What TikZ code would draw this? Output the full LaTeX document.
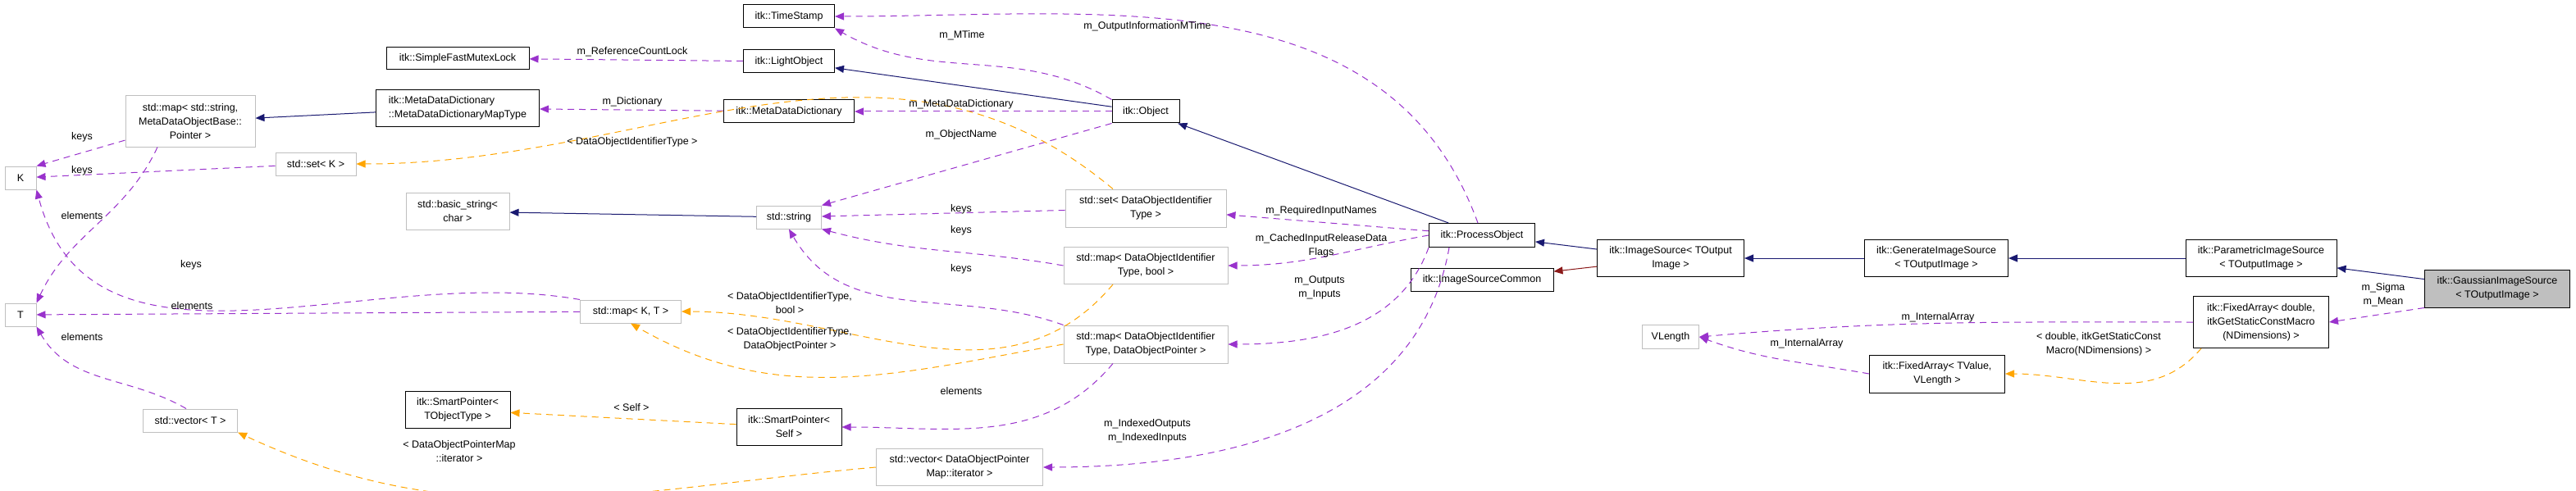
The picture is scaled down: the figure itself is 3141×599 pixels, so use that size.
\documentclass[tikz,border=0pt]{standalone}
\usepackage{fontspec}
\setmainfont{Liberation Sans}
\usetikzlibrary{arrows.meta}

\definecolor{inhcol}{RGB}{25,25,112}
\definecolor{usecol}{RGB}{153,50,204}
\definecolor{tplcol}{RGB}{255,165,0}
\definecolor{protcol}{RGB}{139,26,26}
\definecolor{extcol}{RGB}{191,191,191}

\tikzset{
  box/.style={fill=white, inner sep=2pt, align=center, font=\fontsize{12.5}{17}\selectfont},
  cls/.style={box, draw=black, line width=1pt},
  ext/.style={box, draw=extcol, line width=1pt},
  cur/.style={box, draw=black, fill=extcol, line width=1pt},
  lbl/.style={align=center, inner sep=0pt, font=\fontsize{12.5}{17}\selectfont},
  tip/.style={-{Triangle[length=11pt,width=9pt]}},
  inh/.style={tip, draw=inhcol, line width=1pt},
  prot/.style={tip, draw=protcol, line width=1pt},
  use/.style={tip, draw=usecol, line width=1pt, dash pattern=on 8pt off 6pt},
  tpl/.style={tip, draw=tplcol, line width=1pt, dash pattern=on 8pt off 6pt}
}

\begin{document}
\begin{tikzpicture}[x=1pt, y=-1pt]
      \useasboundingbox (0,0) rectangle (3141,599);

      % classes
      \node[cls, minimum width=111, minimum height=28] (TS) at (962,20) {itk::TimeStamp};
      \node[cls, minimum width=111, minimum height=28] (LO) at (962,75) {itk::LightObject};
      \node[cls, minimum width=174, minimum height=27] (SFML) at (558,71) {itk::SimpleFastMutexLock};
      \node[cls, minimum width=199, minimum height=45, align=left] (MDMT) at (558,132) {itk::MetaDataDictionary\\::MetaDataDictionaryMapType};
      \node[cls, minimum width=159, minimum height=28] (MDD) at (962,136) {itk::MetaDataDictionary};
      \node[cls, minimum width=82, minimum height=28] (Obj) at (1397,136) {itk::Object};
      \node[ext, minimum width=158, minimum height=62] (MapSS) at (232,148) {std::map< std::string,\\MetaDataObjectBase::\\Pointer >};
      \node[ext, minimum width=38, minimum height=28] (K) at (25,217) {K};
      \node[ext, minimum width=98, minimum height=28] (SetK) at (385,200) {std::set< K >};
      \node[ext, minimum width=126, minimum height=45] (BStr) at (558,258) {std::basic\_string<\\char >};
      \node[ext, minimum width=79, minimum height=28] (Str) at (962,265) {std::string};
      \node[ext, minimum width=196, minimum height=46] (SetDO) at (1397,254) {std::set< DataObjectIdentifier\\Type >};
      \node[ext, minimum width=200, minimum height=45] (MapDB) at (1397,324) {std::map< DataObjectIdentifier\\Type, bool >};
      \node[ext, minimum width=200, minimum height=46] (MapDP) at (1397,420) {std::map< DataObjectIdentifier\\Type, DataObjectPointer >};
      \node[cls, minimum width=129, minimum height=29] (PO) at (1807,287) {itk::ProcessObject};
      \node[cls, minimum width=179, minimum height=45] (IS) at (2037,315) {itk::ImageSource< TOutput\\Image >};
      \node[cls, minimum width=174, minimum height=28] (ISC) at (1807,341) {itk::ImageSourceCommon};
      \node[cls, minimum width=175, minimum height=45] (GIS) at (2361,315) {itk::GenerateImageSource\\< TOutputImage >};
      \node[cls, minimum width=184, minimum height=45] (PIS) at (2757,315) {itk::ParametricImageSource\\< TOutputImage >};
      \node[cur, minimum width=177, minimum height=46] (GaIS) at (3045,352) {itk::GaussianImageSource\\< TOutputImage >};
      \node[cls, minimum width=165, minimum height=63] (FAd) at (2757,393) {itk::FixedArray< double,\\itkGetStaticConstMacro\\(NDimensions) >};
      \node[ext, minimum width=69, minimum height=29] (VL) at (2037,411) {VLength};
      \node[cls, minimum width=165, minimum height=46] (FAT) at (2362,456) {itk::FixedArray< TValue,\\VLength >};
      \node[ext, minimum width=38, minimum height=28] (T) at (25,384) {T};
      \node[ext, minimum width=123, minimum height=28] (MapKT) at (769,380) {std::map< K, T >};
      \node[ext, minimum width=115, minimum height=28] (VecT) at (232,513) {std::vector< T >};
      \node[cls, minimum width=128, minimum height=45] (SPT) at (558,500) {itk::SmartPointer<\\TObjectType >};
      \node[cls, minimum width=128, minimum height=45] (SPS) at (962,521) {itk::SmartPointer<\\Self >};
      \node[ext, minimum width=203, minimum height=45] (VecIt) at (1170,570) {std::vector< DataObjectPointer\\Map::iterator >};

      % inheritance
      \draw [inh] (MDMT)  to (MapSS);
      \draw [inh] (Str)   to (BStr);
      \draw [inh] (Obj)   to (LO);
      \draw [inh] (PO)    to (Obj);
      \draw [inh] (IS)    to (PO);
      \draw [prot] (IS)   to (ISC);
      \draw [inh] (GIS)   to (IS);
      \draw [inh] (PIS)   to (GIS);
      \draw [inh] (GaIS)  to (PIS);

      % members
      \draw [use] (LO)    to (SFML);
      \draw [use] (Obj.north west) to[out=150, in=-30] (TS.south east);
      \draw [use] (Obj)   to (MDD);
      \draw [use] (Obj.south west) to (Str.north east);
      \draw [use] (MDD)   to (MDMT);
      \draw [use] (MapSS) to (K.north east);
      \draw [use] (SetK)  to (K);
      \coordinate (mss) at ([xshift=-40]MapSS.south);
      \draw [use] (mss) to[out=-115, in=65] (T.north east);
      \draw [use] (MapKT.north west) to[out=170, in=-75] (K.south east);
      \draw [use] (MapKT) to (T);
      \coordinate (vt) at ([xshift=-5]VecT.north);
      \draw [use] (vt) to[out=150, in=-60] (T.south east);
      \draw [use] (SetDO) to (Str);
      \draw [use] (MapDB.west) to[out=170, in=-15] (Str.south east);
      \draw [use] (MapDP.north west) to[out=160, in=-60] (Str.south);
      \coordinate (mdp) at ([xshift=-40]MapDP.south);
      \draw [use] (mdp) to[out=-130, in=0] (SPS.east);
      \coordinate (po) at ([xshift=-5]PO.north);
      \draw [use] (po) to[out=110, in=0] (TS.east);
      \draw [use] (PO)    to (SetDO);
      \draw [use] (PO.west) to[out=190, in=0] (MapDB.east);
      \draw [use] (PO.south west) to[out=-110, in=0] (MapDP.east);
      \coordinate (po2) at ([xshift=-40]PO.south);
      \draw [use] (po2) to[out=-100, in=0] (VecIt.east);
      \draw [use] (GaIS.south west) to (FAd.east);
      \draw [use] (FAd.west) to[out=180, in=5] (VL.east);
      \draw [use] (FAT.west) to[out=170, in=-20] (VL.east);

      % templates
      \coordinate (sdo) at ([xshift=-40]SetDO.north);
      \draw [tpl] (sdo) to[out=140, in=0] (SetK.east);
      \coordinate (mdb) at ([xshift=-40]MapDB.south);
      \draw [tpl] (mdb) to[out=-130, in=0] (MapKT.east);
      \draw [tpl] (MapDP.west) to[out=190, in=-30] (MapKT.south);
      \draw [tpl] (SPS)   to (SPT);
      \draw [tpl] (VecIt.west) to[out=185, in=-25] (VecT.south east);
      \coordinate (fad) at ([xshift=10]FAd.south west);
      \draw [tpl] (fad) to[out=-130, in=0] (FAT.east);

      % labels
      \node[lbl] (lRCL) at (771,63) {m\_ReferenceCountLock};
      \node[lbl] (lDic) at (771,124) {m\_Dictionary};
      \node[lbl] (lMDD) at (1172,127) {m\_MetaDataDictionary};
      \node[lbl] (lMT) at (1173,43) {m\_MTime};
      \node[lbl] (lOIM) at (1399,32) {m\_OutputInformationMTime};
      \node[lbl] (lON) at (1172,164) {m\_ObjectName};
      \node[lbl] (lDOT) at (771,173) {< DataObjectIdentifierType >};
      \node[lbl] (lk1) at (1172,255) {keys};
      \node[lbl] (lk2) at (1172,281) {keys};
      \node[lbl] (lk3) at (1172,328) {keys};
      \node[lbl] (lRIN) at (1611,257) {m\_RequiredInputNames};
      \node[lbl] (lCIR) at (1611,300) {m\_CachedInputReleaseData\\Flags};
      \node[lbl] (lOI) at (1609,351) {m\_Outputs\\m\_Inputs};
      \node[lbl] (lDB) at (963,370) {< DataObjectIdentifierType,\\bool >};
      \node[lbl] (lDP) at (963,414) {< DataObjectIdentifierType,\\DataObjectPointer >};
      \node[lbl] (lel1) at (1172,477) {elements};
      \node[lbl] (lIdx) at (1399,526) {m\_IndexedOutputs\\m\_IndexedInputs};
      \node[lbl] (lSelf) at (770,497) {< Self >};
      \node[lbl] (lIt) at (560,551) {< DataObjectPointerMap\\::iterator >};
      \node[lbl] (lk4) at (233,323) {keys};
      \node[lbl] (lel2) at (234,373) {elements};
      \node[lbl] (lel3) at (100,411) {elements};
      \node[lbl] (lk5) at (100,167) {keys};
      \node[lbl] (lk6) at (100,208) {keys};
      \node[lbl] (lel4) at (100,263) {elements};
      \node[lbl] (lSM) at (2906,360) {m\_Sigma\\m\_Mean};
      \node[lbl] (lIA1) at (2363,387) {m\_InternalArray};
      \node[lbl] (lIA2) at (2203,419) {m\_InternalArray};
      \node[lbl] (lNd) at (2559,420) {< double, itkGetStaticConst\\Macro(NDimensions) >};
\end{tikzpicture}
\end{document}
